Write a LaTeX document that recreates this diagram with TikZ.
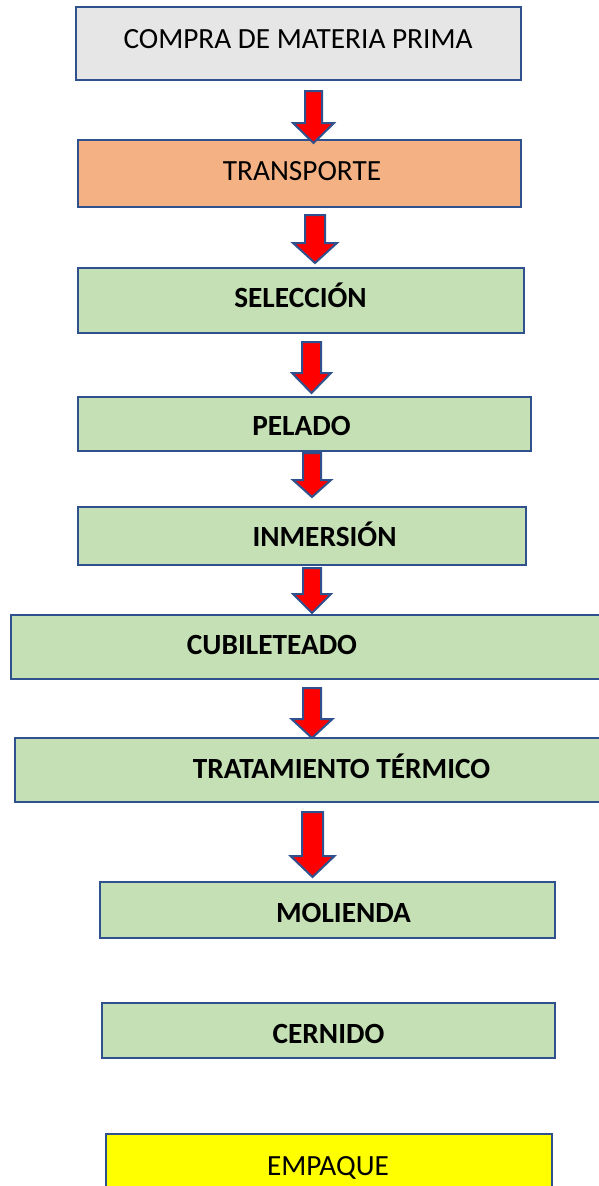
\documentclass[tikz,border=0pt]{standalone}
\usepackage{fontspec}
\setmainfont{Carlito}
\usetikzlibrary{calc}
\definecolor{edgeblue}{HTML}{2F528F}
\definecolor{boxgray}{HTML}{E7E6E6}
\definecolor{boxorange}{HTML}{F4B183}
\definecolor{boxgreen}{HTML}{C5E0B4}
\definecolor{boxyellow}{HTML}{FFFF00}
\definecolor{arrowred}{HTML}{FF0000}
\newcommand{\blockarrow}[5]{%
  \draw[blockarr] let \p1=(#1), \p2=(#2) in
    ({\x1-#3pt},\y1) -- ({\x1+#3pt},\y1) -- ({\x1+#3pt},{\y2+#5pt}) --
    ({\x1+#4pt},{\y2+#5pt}) -- (\x1,\y2) -- ({\x1-#4pt},{\y2+#5pt}) --
    ({\x1-#3pt},{\y2+#5pt}) -- cycle;}
\begin{document}
\begin{tikzpicture}[x=1pt,y=-1pt,
  box/.style={draw=edgeblue, line width=2pt, rectangle, inner sep=0pt, outer sep=0pt, anchor=north west},
  lbl/.style={anchor=base, inner sep=0pt, font=\fontsize{29.3}{35}\selectfont},
  blbl/.style={lbl, font=\fontsize{29.3}{35}\selectfont\bfseries},
  blockarr/.style={draw=edgeblue, fill=arrowred, line width=2pt, line join=miter}]
\useasboundingbox (0,0) rectangle (599,1186);
\clip (0,0) rectangle (599,1186);
\fill[white] (0,0) rectangle (599,1186);
% boxes
\node[box, fill=boxgray,   minimum width=445pt, minimum height=73pt] (b1) at (76,7) {};
\node[box, fill=boxorange, minimum width=443pt, minimum height=67pt] (b2) at (78,140) {};
\node[box, fill=boxgreen,  minimum width=446pt, minimum height=65pt] (b3) at (78,268) {};
\node[box, fill=boxgreen,  minimum width=453pt, minimum height=54pt] (b4) at (78,397) {};
\node[box, fill=boxgreen,  minimum width=448pt, minimum height=58pt] (b5) at (78,507) {};
\node[box, fill=boxgreen,  minimum width=620pt, minimum height=64pt] (b6) at (11,615) {};
\node[box, fill=boxgreen,  minimum width=620pt, minimum height=64pt] (b7) at (15,738) {};
\node[box, fill=boxgreen,  minimum width=455pt, minimum height=56pt] (b8) at (100,882) {};
\node[box, fill=boxgreen,  minimum width=453pt, minimum height=55pt] (b9) at (102,1003) {};
\node[box, fill=boxyellow, minimum width=446pt, minimum height=70pt] (b10) at (106,1134) {};
% labels
\node[lbl]  (t1)  at (298,48)    {COMPRA DE MATERIA PRIMA};
\node[lbl]  (t2)  at (302,180)   {TRANSPORTE};
\node[blbl] (t3)  at (300.5,307) {SELECCIÓN};
\node[blbl] (t4)  at (301.5,435) {PELADO};
\node[blbl] (t5)  at (324.5,546) {INMERSIÓN};
\node[blbl] (t6)  at (272,654)   {CUBILETEADO};
\node[blbl] (t7)  at (341.5,778) {TRATAMIENTO TÉRMICO};
\node[blbl] (t8)  at (343.5,922) {MOLIENDA};
\node[blbl] (t9)  at (328.5,1043){CERNIDO};
\node[lbl]  (t10) at (328,1175)  {EMPAQUE};
% arrow ends
\coordinate (s1) at (313.5,91);  \coordinate (e1) at (313.5,143);
\coordinate (s2) at (315,215);   \coordinate (e2) at (315,263);
\coordinate (s3) at (311.5,342); \coordinate (e3) at (311.5,393);
\coordinate (s4) at (312,453);   \coordinate (e4) at (312,497);
\coordinate (s5) at (312,568);   \coordinate (e5) at (312,613);
\coordinate (s6) at (312,688);   \coordinate (e6) at (312,738);
\coordinate (s7) at (312.5,812); \coordinate (e7) at (312.5,877);
% block arrows: start, end, shaft half, head half, head length
\blockarrow{s1}{e1}{8.5}{20.5}{20}
\blockarrow{s2}{e2}{10}{22}{20}
\blockarrow{s3}{e3}{9.5}{19.5}{20}
\blockarrow{s4}{e4}{9}{19}{17}
\blockarrow{s5}{e5}{9}{19}{19}
\blockarrow{s6}{e6}{9}{20.5}{19}
\blockarrow{s7}{e7}{10.5}{22}{21}
\end{tikzpicture}
\end{document}
